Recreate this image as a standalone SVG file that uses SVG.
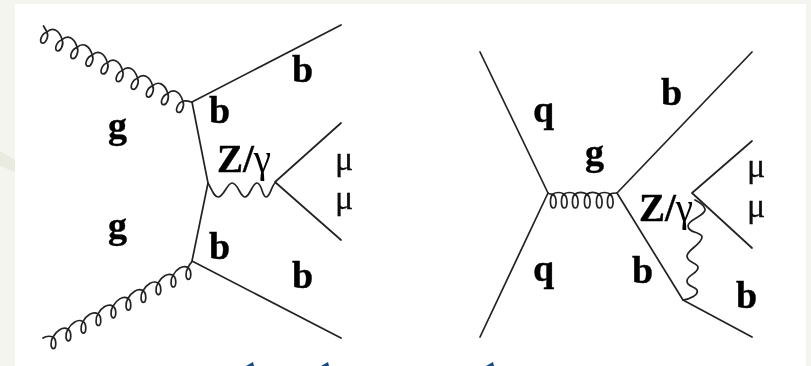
<svg xmlns="http://www.w3.org/2000/svg" width="811" height="366" viewBox="0 0 811 366">
<style>
.l{fill:none;stroke:#222;stroke-width:1.7;stroke-linecap:round;stroke-linejoin:round}
.c{stroke-width:1.7}
.b{font-family:"Liberation Serif","Times New Roman",serif;font-weight:700;font-size:38px;fill:#000;stroke:#000;stroke-width:.4}
.z{font-size:39px}
.m{font-family:"Liberation Serif","Times New Roman",serif;font-size:34px;fill:#111;stroke:#111;stroke-width:.3}
.s{font-weight:400;stroke:none}
.mark{fill:#0f4a8a}
</style>
<defs><filter id="soft" x="-5%" y="-5%" width="110%" height="110%"><feGaussianBlur stdDeviation="0.5"/></filter>
<filter id="softer" x="-5%" y="-5%" width="110%" height="110%"><feGaussianBlur stdDeviation="0.35"/></filter></defs>
<rect width="811" height="366" fill="#f4f5ef"/>
<path d="M0,151 L15,160 L15,172 L0,166Z" fill="#e9ebe0"/>
<rect x="15" y="4" width="791" height="362" fill="#fff"/>
<g id="connectors" filter="url(#soft)">
<g id="left-diagram">
<path class="l" d="M192,102L341,25M192,102L208,183L192,261L341,338M275,182L341,123M275,182L341,240"/>
<path id="gluon-top" class="l c" d="M43.5,26L47,32c2,5 -1.5,12 -5,11c-3,-1 -1,-9 5,-11
c5,-5 12,-3 15.1,7.7c2,5 -1.5,12 -5,11c-3,-1 -1,-9 5,-11
c5,-5 12,-3 15.1,7.7c2,5 -1.5,12 -5,11c-3,-1 -1,-9 5,-11
c5,-5 12,-3 15.1,7.7c2,5 -1.5,12 -5,11c-3,-1 -1,-9 5,-11
c5,-5 12,-3 15.1,7.7c2,5 -1.5,12 -5,11c-3,-1 -1,-9 5,-11
c5,-5 12,-3 15.1,7.7c2,5 -1.5,12 -5,11c-3,-1 -1,-9 5,-11
c5,-5 12,-3 15.1,7.7c2,5 -1.5,12 -5,11c-3,-1 -1,-9 5,-11
c5,-5 12,-3 15.1,7.7c2,5 -1.5,12 -5,11c-3,-1 -1,-9 5,-11
c5,-5 12,-3 15.1,7.7c2,5 -1.5,12 -5,11c-3,-1 -1,-9 5,-11
c5,-5 12,-3 15.1,7.7c2,5 -1.5,12 -5,11c-3,-1 -1,-9 5,-11
c3,-1 6,0 9,1"/>
<path id="gluon-bottom" class="l c" d="M43,338c3,-2 7,-2 10,-1c3.5,2 3.5,10 1,11.5c-3.5,1 -4,-7 -1,-11.5
c3,-6 10,-11 15,-7.7c3.5,2 3.5,10 1,11.5c-3.5,1 -4,-7 -1,-11.5
c3,-6 10,-11 15,-7.7c3.5,2 3.5,10 1,11.5c-3.5,1 -4,-7 -1,-11.5
c3,-6 10,-11 15,-7.7c3.5,2 3.5,10 1,11.5c-3.5,1 -4,-7 -1,-11.5
c3,-6 10,-11 15,-7.7c3.5,2 3.5,10 1,11.5c-3.5,1 -4,-7 -1,-11.5
c3,-6 10,-11 15,-7.7c3.5,2 3.5,10 1,11.5c-3.5,1 -4,-7 -1,-11.5
c3,-6 10,-11 15,-7.7c3.5,2 3.5,10 1,11.5c-3.5,1 -4,-7 -1,-11.5
c3,-6 10,-11 15,-7.7c3.5,2 3.5,10 1,11.5c-3.5,1 -4,-7 -1,-11.5
c3,-6 10,-11 15,-7.7c3.5,2 3.5,10 1,11.5c-3.5,1 -4,-7 -1,-11.5
c3,-6 10,-11 15,-7.7c3.5,2 3.5,10 1,11.5c-3.5,1 -4,-7 -1,-11.5
c1,-2 2,-4 4,-6"/>
<path id="photon-left" class="l c" d="M208,183C212,190 214,197 218,197C224,197 227,183 232,183C238,183 240,197 245,197C250,197 252,183 257,183C262,183 262,197 266,197C270,197 271,187 275,183"/>
</g>
<g id="right-diagram">
<path class="l" d="M480,52L548,193L480,337M617,193L752,52M617,193L683,300L752,337M692,193L752,141M692,193L752,248"/>
<path id="gluon-q" class="l c" d="M548,193
c2,2 3,1 5,1c4,3 4,14 0.5,14c-4,0 -4,-11 -0.5,-14
c3,-2 8,-2 11,0c4,3 4,14 0.5,14c-4,0 -4,-11 -0.5,-14
c3,-2 8,-2 11,0c4,3 4,14 0.5,14c-4,0 -4,-11 -0.5,-14
c3,-2 8,-2 12,0c4,3 4,14 0.5,14c-4,0 -4,-11 -0.5,-14
c3,-2 8,-2 12,0c4,3 4,14 0.5,14c-4,0 -4,-11 -0.5,-14
c3,-2 8,-2 11,0c4,3 4,14 0.5,14c-4,0 -4,-11 -0.5,-14
c2,-1 4,-1 7,-1"/>
<path id="photon-right" class="l c" d="M683,300C690,299 699,295 697,290C695,286 687,287 687,281C687,275 699,273 698,267C697,262 687,263 687,256C687,250 702,244 702,237C702,232 688,233 688,226C688,219 706,216 705,209C704,205 699,202 695,200"/>
</g>
</g>
<g filter="url(#softer)">
<g id="label-b1"><text class="b" x="292" y="82">b</text></g>
<g id="label-b2"><text class="b" x="209" y="123">b</text></g>
<g id="label-g1"><text class="b" x="108" y="138">g</text></g>
<g id="label-g2"><text class="b" x="108" y="238">g</text></g>
<g id="label-zg1"><text class="b z" x="217" y="172">Z/<tspan class="s">γ</tspan></text></g>
<g id="label-b3"><text class="b" x="209" y="259">b</text></g>
<g id="label-b4"><text class="b" x="292" y="288">b</text></g>
<g id="label-mu1"><text class="m" x="335" y="170">μ</text></g>
<g id="label-mu2"><text class="m" x="335" y="209">μ</text></g>
<g id="label-q1"><text class="b" x="533" y="122">q</text></g>
<g id="label-q2"><text class="b" x="533" y="281">q</text></g>
<g id="label-g3"><text class="b" x="585" y="165">g</text></g>
<g id="label-b5"><text class="b" x="661" y="105">b</text></g>
<g id="label-zg2"><text class="b z" x="639" y="221">Z/<tspan class="s">γ</tspan></text></g>
<g id="label-b6"><text class="b" x="632" y="283">b</text></g>
<g id="label-b7"><text class="b" x="736" y="308">b</text></g>
<g id="label-mu3"><text class="m" x="747" y="177">μ</text></g>
<g id="label-mu4"><text class="m" x="747" y="217">μ</text></g>
</g>
<path class="mark" d="M246,366L253,362L254,366ZM321,366L328,362L329,366ZM486,366L493,362L494,366Z"/>
</svg>
